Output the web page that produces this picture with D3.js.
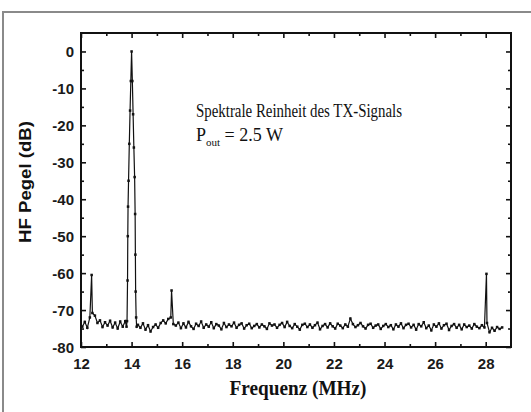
<!DOCTYPE html>
<html>
<head>
<meta charset="utf-8">
<script src="https://cdn.jsdelivr.net/npm/d3@7"></script>
<style>
  body { margin: 0; background: #fff; }
  .tick-label { font-family: 'Liberation Sans', Arial, sans-serif; font-size: 15px; font-weight: bold; fill: #1a1a1a; }
  .serif { font-family: 'Liberation Serif', 'Times New Roman', serif; fill: #111; }
</style>
</head>
<body>
<svg width="531" height="412"></svg>
<script>
// Axis ticks
var xMajorTicks = [12, 14, 16, 18, 20, 22, 24, 26, 28];
var xMinorTicks = [13, 15, 17, 19, 21, 23, 25, 27];
var yMajorTicks = [0, -10, -20, -30, -40, -50, -60, -70, -80];
var yMinorTicks = [-5, -15, -25, -35, -45, -55, -65, -75];

// Noise floor, one value every 0.1 MHz starting at 12.05 MHz (null = inside the carrier)
var floorStart = 12.05;
var floorStep = 0.1;
var floorLevels = [
  -74.5, -73.2, -74.8, -72.0, -70.8, -71.5, -73.5, -72.8, -74.6, -73.3,
  -74.2, -72.9, -74.7, -73.4, -75.0, -73.1, -74.5, -73.0, null, null,
  null, null, -74.0, -74.8, -73.6, -75.3, -74.1, -75.8, -74.6, -73.9,
  -74.8, -73.5, -72.8, -73.6, -72.4, -72.0, -73.8, -74.2, -73.4, -74.9,
  -73.6, -74.7, -73.2, -74.4, -75.1, -73.7, -74.3, -73.1, -74.8, -73.9,
  -74.5, -73.3, -74.9, -73.8, -74.2, -75.2, -73.5, -74.6, -73.9, -74.4,
  -73.4, -74.8, -74.0, -73.6, -75.0, -74.1, -73.7, -74.9, -74.3, -73.8,
  -74.7, -73.9, -74.4, -75.1, -73.6, -74.2, -73.9, -74.8, -74.0, -73.5,
  -74.6, -73.2, -74.3, -74.9, -73.8, -74.5, -75.3, -74.0, -73.7, -74.6,
  -73.9, -74.8, -74.1, -73.4, -75.2, -74.3, -73.8, -74.7, -73.6, -74.4,
  -75.0, -73.7, -74.2, -74.9, -73.9, -74.5, -72.3, -73.8, -74.6, -74.1,
  -73.5, -74.4, -75.0, -74.0, -73.7, -74.8, -74.2, -73.9, -75.1, -74.3,
  -73.8, -74.6, -74.1, -75.2, -73.9, -74.5, -73.6, -74.9, -74.0, -73.7,
  -74.7, -74.0, -75.3, -73.8, -74.4, -73.3, -74.9, -74.2, -75.5, -73.9,
  -74.5, -73.6, -75.0, -74.1, -73.7, -75.4, -74.3, -73.8, -74.8, -74.0,
  -75.2, -73.9, -74.6, -74.2, -75.0, -73.8, -74.5, -74.9, -74.1, -74.7,
  -73.5, -76.0, -74.8, -75.6, -74.6, -75.1, -74.7
];

// Carrier at 14 MHz [MHz, dB]
var carrier = [
  [13.80, -74.5], [13.82, -73], [13.84, -62], [13.85, -50], [13.86, -42],
  [13.88, -35], [13.91, -25], [13.94, -16], [13.97, -8], [14.00, 0],
  [14.03, -8], [14.06, -17], [14.09, -26], [14.12, -34], [14.14, -44],
  [14.15, -55], [14.16, -65], [14.18, -72], [14.20, -74.5]
];

// Spurious lines [MHz, dB]
var spurs = [[12.42, -60.5], [15.58, -64.7], [28.03, -60.2]];

var svg = d3.select('svg');
var margin = {left: 81, right: 511, top: 33, bottom: 347};

var scaleX = d3.scaleLinear().domain([12, 29]).range([margin.left, margin.right]);
var scaleY = d3.scaleLinear().domain([-80, 5]).range([margin.bottom, margin.top]);

// Scanned page border
svg.append('path')
  .attr('d', 'M3,412 L3,12 L531,12')
  .attr('fill', 'none')
  .attr('stroke', '#8a8a8a')
  .attr('stroke-width', 2);

// Build the spectrum
var spectrum = [];
floorLevels.forEach(function(v, i) {
  if (v !== null) spectrum.push([floorStart + i * floorStep, v]);
});
spectrum = spectrum.concat(carrier, spurs);
spectrum.sort(function(a, b) { return a[0] - b[0]; });

var line = d3.line()
  .x(function(d) { return scaleX(d[0]); })
  .y(function(d) { return scaleY(d[1]); });

svg.append('path')
  .datum(spectrum)
  .attr('d', line)
  .attr('fill', 'none')
  .attr('stroke', '#111')
  .attr('stroke-width', 1.2);

svg.append('g').selectAll('rect')
  .data(spectrum)
  .enter().append('rect')
  .attr('x', function(d) { return scaleX(d[0]) - 1.25; })
  .attr('y', function(d) { return scaleY(d[1]) - 1.25; })
  .attr('width', 2.5)
  .attr('height', 2.5)
  .attr('fill', '#111');

// Axes with inward ticks on all four sides
function inward(axis, scale, values, size) {
  return axis(scale).tickValues(values).tickSize(-size).tickSizeOuter(0);
}
var plain = function(d) { return String(d); };
var sides = [
  {axis: d3.axisBottom, scale: scaleX, major: xMajorTicks, minor: xMinorTicks, t: 'translate(0,' + margin.bottom + ')', labels: true},
  {axis: d3.axisTop, scale: scaleX, major: xMajorTicks, minor: xMinorTicks, t: 'translate(0,' + margin.top + ')', labels: false},
  {axis: d3.axisLeft, scale: scaleY, major: yMajorTicks, minor: yMinorTicks, t: 'translate(' + margin.left + ',0)', labels: true},
  {axis: d3.axisRight, scale: scaleY, major: yMajorTicks, minor: yMinorTicks, t: 'translate(' + margin.right + ',0)', labels: false}
];
sides.forEach(function(s) {
  var gMinor = svg.append('g').attr('transform', s.t)
    .call(inward(s.axis, s.scale, s.minor, 3).tickFormat(''));
  var gMajor = svg.append('g').attr('transform', s.t)
    .call(inward(s.axis, s.scale, s.major, 5).tickFormat(s.labels ? plain : ''));
  [gMinor, gMajor].forEach(function(g) {
    g.select('.domain').remove();
    g.selectAll('line').attr('stroke', '#111').attr('stroke-width', 1.6);
  });
  gMajor.selectAll('text').attr('class', 'tick-label').attr('font-family', null).attr('font-size', null);
});
// pad labels away from the frame
svg.selectAll('.tick text').each(function() {
  var t = d3.select(this);
  if (t.text() === '') return;
  if (t.attr('x') !== null && +t.attr('x') < 0) t.attr('x', -7).attr('dy', '0.36em');
  if (t.attr('y') !== null && +t.attr('y') > 0) t.attr('y', 11).attr('dy', '0.71em');
});

// Frame
svg.append('rect')
  .attr('x', margin.left).attr('y', margin.top)
  .attr('width', margin.right - margin.left)
  .attr('height', margin.bottom - margin.top)
  .attr('fill', 'none')
  .attr('stroke', '#111')
  .attr('stroke-width', 2);

// Axis titles
svg.append('text')
  .attr('class', 'serif')
  .attr('text-anchor', 'middle')
  .attr('transform', 'translate(298,395)')
  .attr('font-size', 20)
  .attr('font-weight', 'bold')
  .attr('textLength', 137)
  .attr('lengthAdjust', 'spacingAndGlyphs')
  .text('Frequenz (MHz)');

svg.append('text')
  .attr('text-anchor', 'middle')
  .attr('transform', 'translate(31,182) rotate(-90)')
  .attr('font-family', "'Liberation Sans', Arial, sans-serif")
  .attr('font-size', 16)
  .attr('font-weight', 'bold')
  .attr('fill', '#111')
  .attr('textLength', 122)
  .attr('lengthAdjust', 'spacingAndGlyphs')
  .text('HF Pegel (dB)');

// Annotation
svg.append('text')
  .attr('class', 'serif')
  .attr('x', 196).attr('y', 117)
  .attr('font-size', 18)
  .attr('textLength', 206)
  .attr('lengthAdjust', 'spacingAndGlyphs')
  .text('Spektrale Reinheit des TX-Signals');

var pout = svg.append('text')
  .attr('class', 'serif')
  .attr('x', 196).attr('y', 141)
  .attr('font-size', 18);
pout.append('tspan').text('P');
pout.append('tspan').attr('font-size', 11).attr('dy', 5).text('out');
pout.append('tspan').attr('dy', -5).text(' = 2.5 W');
</script>
</body>
</html>
